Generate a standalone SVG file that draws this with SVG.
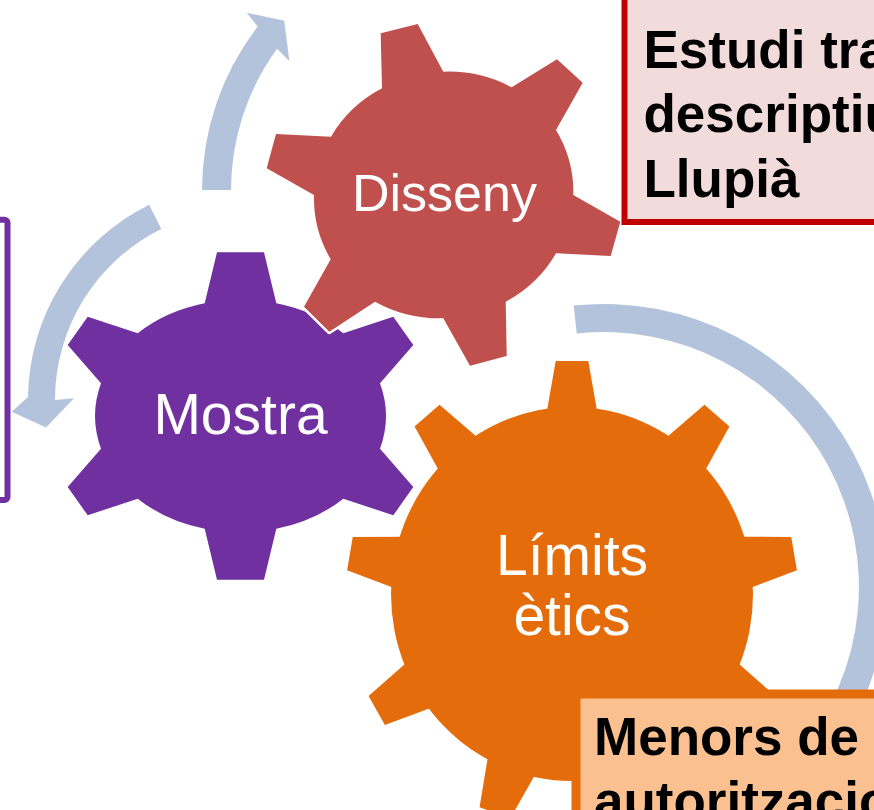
<svg xmlns="http://www.w3.org/2000/svg" xmlns:xlink="http://www.w3.org/1999/xlink" width="874" height="810" viewBox="0 0 874 810">
  <style>
    .arrow { fill: #B3C3DC; }
    .label { font-family: "Liberation Sans", Arial, sans-serif; fill: #FFFFFF; text-anchor: middle; }
    .boxtext { font-family: "Liberation Sans", Arial, sans-serif; font-weight: bold; fill: #000000; font-size: 53px; }
  </style>
  <defs>
    <polygon id="otooth" points="-16.3,-225.5 16.3,-225.5 26,-172 -26,-172"/>
  </defs>
  <rect x="0" y="0" width="874" height="810" fill="#FFFFFF"/>

  <g id="connectors">
    <path class="arrow" d="M 202,190 A 268 268 0 0 1 257.7,26.5 L 246.7,12.7 L 284.3,20.7 L 289.3,61 L 277.1,48.8 A 239 239 0 0 0 231,190 Z"/>
    <path class="arrow" d="M 149.2,204.7 A 218 218 0 0 0 28,397 L 11.7,411.7 L 46,427.5 L 74,398.3 L 55,400 A 191 191 0 0 1 161.2,228.9 Z"/>
    <path class="arrow" d="M 573.7,305.6 A 283 283 0 0 1 820.8,768.9 L 799.3,750.9 A 255 255 0 0 0 576.7,333.5 Z"/>
  </g>

  <g id="box-left">
    <rect x="-20" y="219.7" width="27.5" height="280.3" rx="3" fill="#FFFFFF" stroke="#7030A0" stroke-width="6"/>
  </g>

  <g id="gear-mostra">
    <path fill="#7030A0" stroke="#FFFFFF" stroke-width="5" paint-order="stroke" stroke-linejoin="round" d="M 204.7,303.3 L 217,252.3 L 264,252.3 L 276.3,303.3 A 144.8 116 0 0 1 343.3,333.3 L 393.3,316.7 L 413.3,345 L 380,383.3 A 144.8 116 0 0 1 380,448.7 L 413.3,487 L 393.3,515.3 L 343.3,498.7 A 144.8 116 0 0 1 276.3,528.7 L 264,579.7 L 217,579.7 L 204.7,528.7 A 144.8 116 0 0 1 137.7,498.7 L 87.7,515.3 L 67.7,487 L 101,448.7 A 144.8 116 0 0 1 101,383.3 L 67.7,345 L 87.7,316.7 L 137.7,333.3 A 144.8 116 0 0 1 204.7,303.3 Z"/>
    <text class="label" x="240.5" y="434" font-size="57">Mostra</text>
  </g>

  <g id="gear-disseny">
    <path fill="#C0504D" stroke="#FFFFFF" stroke-width="5" paint-order="stroke" stroke-linejoin="round" d="M 382,88.3 L 380.7,33.3 L 417.7,24 L 443.3,71.7 A 129.5 124 0 0 1 511.7,87.3 L 557,59.3 L 582.7,82.7 L 556,130 A 129.5 124 0 0 1 573.3,195 L 620.3,221.7 L 610.7,256 L 556,253.3 A 129.5 124 0 0 1 505.7,301.7 L 506.7,356 L 470,365.7 L 443.3,318.3 A 129.5 124 0 0 1 375,301.7 L 329.3,331.7 L 304,306.7 L 330.7,259.3 A 129.5 124 0 0 1 314,195 L 266.7,168.3 L 276,134 L 331,136.7 A 129.5 124 0 0 1 382,88.3 Z"/>
    <text class="label" x="444.5" y="210.7" font-size="52">Disseny</text>
  </g>

  <g id="gear-limits">
    <g transform="translate(572,594) scale(1,1.033)" fill="#E46C0A">
      <circle r="181"/>
      <use xlink:href="#otooth" href="#otooth" transform="rotate(0)"/>
      <use xlink:href="#otooth" href="#otooth" transform="rotate(40)"/>
      <use xlink:href="#otooth" href="#otooth" transform="rotate(80)"/>
      <use xlink:href="#otooth" href="#otooth" transform="rotate(120)"/>
      <use xlink:href="#otooth" href="#otooth" transform="rotate(160)"/>
      <use xlink:href="#otooth" href="#otooth" transform="rotate(200)"/>
      <use xlink:href="#otooth" href="#otooth" transform="rotate(240)"/>
      <use xlink:href="#otooth" href="#otooth" transform="rotate(280)"/>
      <use xlink:href="#otooth" href="#otooth" transform="rotate(320)"/>
    </g>
    <text class="label" x="572" y="575" font-size="57">Límits</text>
    <text class="label" x="572" y="635" font-size="57">ètics</text>
  </g>

  <g id="box-estudi">
    <rect x="624.5" y="-20" width="300" height="242" fill="#F2DCDB" stroke="#C00000" stroke-width="6"/>
    <text class="boxtext" x="643.5" y="67.5">Estudi tra</text>
    <text class="boxtext" x="643.5" y="132">descriptiu</text>
    <text class="boxtext" x="643.5" y="196.5">Llupià</text>
  </g>

  <g id="box-menors">
    <rect x="576" y="694" width="320" height="160" fill="#FAC090" stroke="#E46C0A" stroke-width="9"/>
    <text class="boxtext" x="594" y="755">Menors de</text>
    <text class="boxtext" x="594" y="819">autoritzacio</text>
  </g>
</svg>
